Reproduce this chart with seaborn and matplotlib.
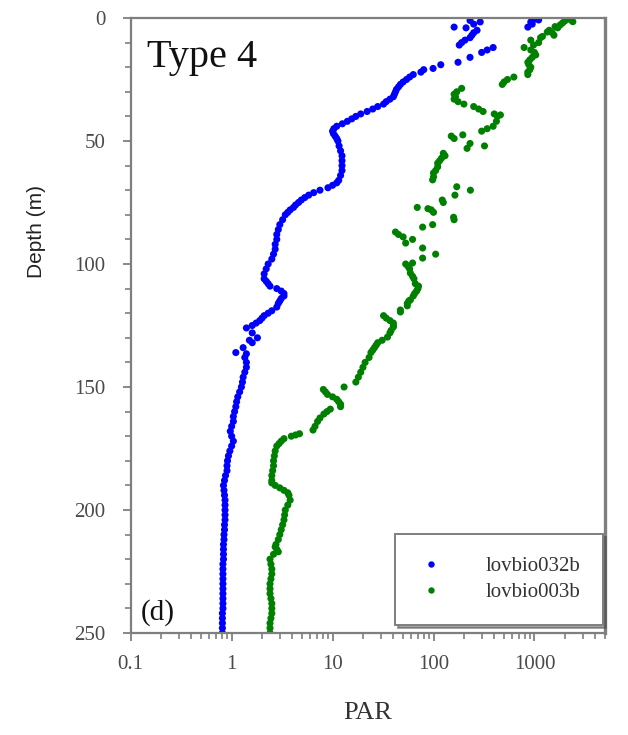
import numpy as np
import pandas as pd
import matplotlib
matplotlib.use("Agg")
import matplotlib.pyplot as plt
import matplotlib.ticker as mticker
import seaborn as sns

# ---------------- data ----------------
blue_name = "lovbio032b"
green_name = "lovbio003b"

blue_depth = [0.5, 0.8, 1.6, 2.5, 3.7, 1, 1.6, 2.5, 3.7, 4, 5, 6, 7, 8, 9, 10, 11,
              12, 13, 14, 16, 18, 19, 20.5, 21, 22, 23, 24, 25, 26, 27, 28, 29, 30,
              31, 32, 33, 34, 35, 36, 37, 38, 39, 40, 41, 42, 43, 44, 45, 46, 47, 48,
              49, 50, 52, 54, 56, 58, 60, 62, 64, 66, 67, 68, 69, 70, 71, 72, 73, 74,
              75, 76, 77, 78, 79, 80, 82, 84, 86, 88, 90, 92, 94, 96, 98, 100, 102,
              104, 106, 107, 108, 109, 110, 111, 112, 113, 114, 115, 116, 117.5, 119,
              120, 121, 122, 123, 124, 125, 126, 128, 130, 131, 132, 134, 136, 136.5,
              138, 140, 142, 144, 146, 148, 150, 152, 154, 156, 158, 160, 162, 164,
              166, 168, 170, 172, 174, 176, 178, 180, 182, 184, 186, 188, 190, 192,
              194, 196, 198, 200, 202, 204, 206, 208, 210, 212, 214, 216, 218, 220,
              222, 224, 226, 228, 230, 232, 234, 236, 238, 240, 242, 244, 246, 248, 250]
blue_par = [1000, 1100, 920, 950, 860, 230, 290, 250, 160, 210, 270, 250, 240, 230, 205,
            190, 180, 390, 340, 300, 230, 175, 118, 99, 80, 75, 63, 58, 54, 50, 47, 45,
            43, 42, 41, 40, 37, 34, 32, 28, 25, 22, 19, 17, 15.5, 14, 12.5, 11, 10.3, 10,
            10.2, 10.6, 11, 11.3, 11.6, 12, 12.4, 12.4, 12.4, 12.4, 12, 11.5, 11, 10, 9,
            7.5, 6.5, 5.8, 5.3, 4.9, 4.6, 4.3, 4.1, 3.8, 3.6, 3.4, 3.2, 3.0, 2.9, 2.8,
            2.8, 2.7, 2.7, 2.6, 2.5, 2.3, 2.2, 2.1, 2.1, 2.2, 2.3, 2.4, 2.8, 3.1, 3.3,
            3.3, 3.1, 3.0, 2.9, 2.8, 2.5, 2.3, 2.1, 2.0, 1.9, 1.75, 1.6, 1.4, 1.6, 1.8,
            1.5, 1.6, 1.3, 1.1, 1.4, 1.35, 1.4, 1.4, 1.35, 1.3, 1.28, 1.25, 1.2, 1.15,
            1.12, 1.1, 1.07, 1.04, 1.04, 1.0, 0.97, 1.0, 1.04, 1.0, 0.96, 0.93, 0.91,
            0.9, 0.9, 0.87, 0.85, 0.83, 0.84, 0.85, 0.86, 0.86, 0.86, 0.86, 0.86, 0.85,
            0.85, 0.84, 0.84, 0.83, 0.83, 0.83, 0.83, 0.82, 0.82, 0.82, 0.82, 0.82,
            0.82, 0.82, 0.82, 0.82, 0.82, 0.81, 0.81, 0.81, 0.81, 0.81]

green_depth = [0.5, 0.8, 1.2, 1.5, 2, 2.8, 3.5, 4, 5, 5.7, 6, 7, 7.5, 8, 9, 10, 11, 12,
               13, 14, 15, 16, 17, 18, 19, 20, 21, 22, 23, 24, 25, 26, 27, 28.6, 30, 31,
               32, 33, 34, 35, 36, 37, 38, 39, 39.4, 40, 42, 44, 45, 46, 47.5, 48, 49,
               51, 52, 53, 55, 56, 57, 58, 59, 60.5, 62, 63, 64.6, 65.8, 68.6, 70, 72,
               74, 75, 77, 77.5, 78, 79, 81, 82, 84, 85, 87, 88, 89, 90, 91.5, 93.5, 96,
               97.6, 99.6, 100, 101, 102, 103.7, 105, 106, 108, 109, 110, 111, 112, 113,
               114.6, 115, 116, 117, 118.7, 119.5, 121, 122, 123, 124, 125, 125.6, 127,
               128, 129.7, 131, 132, 133, 134, 135, 136, 138, 140, 142, 144, 146, 148,
               150, 151, 152, 153, 154, 155, 156, 157, 158, 159, 160, 161, 162.6, 164,
               166, 167.5, 169, 169.5, 170, 171, 172, 173, 174, 176, 178, 180, 182, 184,
               186, 188, 189, 190, 191, 192, 193, 194, 196, 198, 200, 202, 204, 206,
               208, 210, 212, 214, 215, 216, 217, 218, 220, 222, 224, 226, 228, 230,
               232, 234, 236, 238, 240, 242, 244, 246, 248, 250]
green_par = [2300, 2290, 2000, 2400, 1900, 1800, 1600, 1700, 1400, 1340, 1500, 1560, 1200,
             1150, 920, 1100, 980, 790, 920, 1000, 1030, 950, 900, 860, 880, 920, 900,
             860, 860, 625, 540, 500, 480, 190, 170, 160, 165, 160, 175, 200, 250, 280,
             310, 400, 460, 430, 420, 390, 340, 300, 195, 150, 160, 230, 320, 215, 125,
             130, 120, 115, 110, 110, 105, 100, 100, 98, 170, 232, 163, 122, 125, 69, 88,
             95, 100, 158, 160, 98, 78, 42, 45, 50, 62, 53, 78, 105, 78, 62, 53, 56, 58,
             59, 62, 64, 66, 71, 70, 68, 65, 63, 59, 57, 55, 55, 47, 47, 32, 34, 37, 40,
             40, 40, 38, 37, 35, 31, 28, 27, 26, 25, 24, 23, 21, 20, 19, 18, 17, 13, 8.1,
             8.5, 8.9, 10, 11, 11.5, 12, 12, 9.5, 8.8, 8.2, 7.5, 7.1, 6.7, 6.4, 4.7, 4.3,
             3.9, 3.3, 3.1, 2.95, 2.8, 2.7, 2.65, 2.6, 2.6, 2.55, 2.5, 2.5, 2.5, 2.7, 3.0,
             3.3, 3.6, 3.7, 3.8, 3.6, 3.4, 3.35, 3.3, 3.2, 3.1, 3.0, 2.9, 2.75, 2.7, 2.8,
             2.9, 2.6, 2.4, 2.45, 2.5, 2.5, 2.45, 2.4, 2.4, 2.4, 2.45, 2.5, 2.5, 2.5,
             2.45, 2.4, 2.4, 2.4]

x_ticks = [0.1, 1, 10, 100, 1000]
x_tick_labels = ["0.1", "1", "10", "100", "1000"]
y_ticks = [0, 50, 100, 150, 200, 250]

# ---------------- figure ----------------
sns.set_style("ticks")
plt.rcParams["font.family"] = ["Liberation Serif", "DejaVu Serif"]

df = pd.concat([
    pd.DataFrame({"PAR": blue_par, "Depth": blue_depth, "profile": blue_name}),
    pd.DataFrame({"PAR": green_par, "Depth": green_depth, "profile": green_name}),
], ignore_index=True)

fig = plt.figure(figsize=(6.28, 7.35), dpi=100)
ax = fig.add_axes([130.7 / 628, 1 - 633 / 735, (605 - 130.7) / 628, (633 - 18) / 735])

sns.scatterplot(data=df, x="PAR", y="Depth", hue="profile",
                palette={blue_name: "#0000ff", green_name: "#008000"},
                s=26, linewidth=0, ax=ax, legend=True)

ax.set_xscale("log")
ax.set_xlim(0.1, 5000)
ax.set_ylim(250, 0)

ax.xaxis.set_major_locator(mticker.FixedLocator(x_ticks))
ax.xaxis.set_major_formatter(mticker.FixedFormatter(x_tick_labels))
ax.xaxis.set_minor_locator(mticker.LogLocator(base=10, subs=np.arange(2, 10), numticks=20))
ax.xaxis.set_minor_formatter(mticker.NullFormatter())
ax.yaxis.set_major_locator(mticker.FixedLocator(y_ticks))
ax.yaxis.set_minor_locator(mticker.MultipleLocator(10))

gray = "#7f7f7f"
for sp in ax.spines.values():
    sp.set_color(gray)
    sp.set_linewidth(1.6)
ax.spines["right"].set_linewidth(2.4)
ax.tick_params(axis="both", which="major", direction="out", length=6, width=1.3,
               color=gray, labelsize=15, labelcolor="#4a4a4a", pad=12)
ax.tick_params(axis="both", which="minor", direction="out", length=4, width=1.2, color=gray)
ax.tick_params(axis="x", which="major", pad=10)
ax.tick_params(top=False, right=False, which="both")

ax.set_xlabel("PAR", fontsize=19, color="#333333", labelpad=20)
ax.set_ylabel("")
fig.text(37 / 628, 1 - 232 / 735, "Depth (m)", rotation=90, ha="center", va="center",
         fontsize=15, family=["Liberation Sans", "DejaVu Sans"], color="#222222")

ax.text(0.034, 0.92, "Type 4", transform=ax.transAxes, fontsize=29, color="#111111",
        ha="left", va="baseline")
ax.text(0.022, 0.021, "(d)", transform=ax.transAxes, fontsize=21, color="#111111",
        ha="left", va="baseline")

handles, labels = ax.get_legend_handles_labels()
leg = ax.legend(handles, labels, loc="lower right", bbox_to_anchor=(0.996, 0.013),
                borderaxespad=0, frameon=True, fancybox=False, shadow=True,
                edgecolor=gray, fontsize=15, handletextpad=2.0, borderpad=1.1,
                labelspacing=0.3, handlelength=1.25, markerscale=0.9)
leg.get_frame().set_linewidth(1.4)
for t in leg.get_texts():
    t.set_color("#333333")

fig.savefig("out.png", dpi=100)
